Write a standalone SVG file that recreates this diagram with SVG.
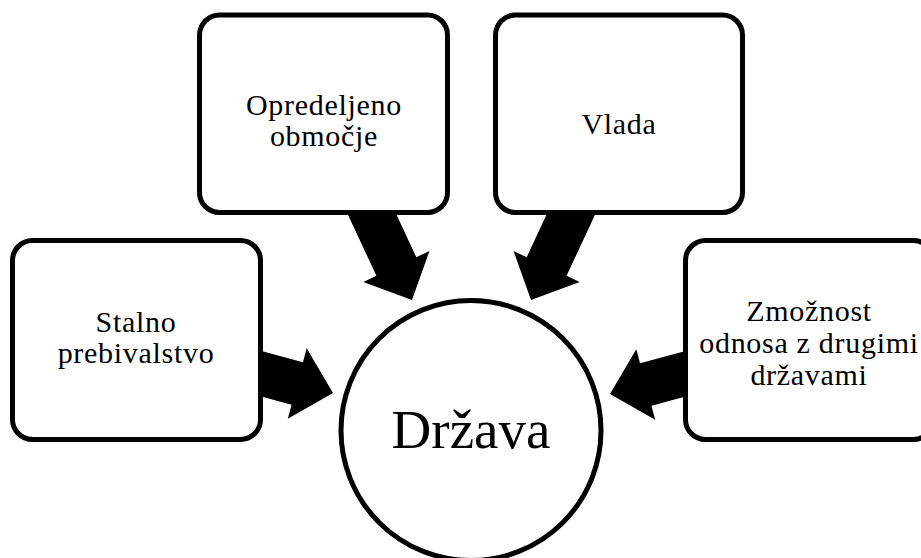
<svg xmlns="http://www.w3.org/2000/svg" width="921" height="558" viewBox="0 0 921 558">
<style>
.box{fill:#fff;stroke:#000;stroke-width:5}
text{font-family:'Liberation Serif','DejaVu Serif',serif;font-size:30px;letter-spacing:0.7px;fill:#000;text-anchor:middle}
.big{font-size:55px;letter-spacing:0}
.arr{fill:#000}
</style>
<defs>
<polygon id="ah" points="0,0 -37,-36.5 -37,-22 -135,-22 -135,22 -37,22 -37,36.5"/>
</defs>
<rect width="921" height="558" fill="#fff"/>
<g id="connectors">
<use href="#ah" class="arr" transform="translate(333,393) rotate(15)"/>
<use href="#ah" class="arr" transform="translate(610,394) rotate(165)"/>
<use href="#ah" class="arr" transform="translate(412,300) rotate(65)"/>
<use href="#ah" class="arr" transform="translate(531,300) rotate(115)"/>
</g>
<g id="n-center">
<circle class="box" cx="471" cy="430.5" r="130"/>
<text class="big" x="471" y="448">Država</text>
</g>
<g id="n-obmocje">
<rect class="box" x="199.5" y="15" width="248" height="197.5" rx="20"/>
<text x="324" y="115">Opredeljeno</text>
<text x="324" y="146">območje</text>
</g>
<g id="n-vlada">
<rect class="box" x="495.5" y="15" width="247" height="197.5" rx="20"/>
<text x="619" y="134">Vlada</text>
</g>
<g id="n-prebivalstvo">
<rect class="box" x="12.5" y="240.5" width="248" height="199" rx="20"/>
<text x="136" y="332">Stalno</text>
<text x="136" y="363">prebivalstvo</text>
</g>
<g id="n-zmoznost">
<rect class="box" x="685.5" y="240.5" width="248" height="199" rx="20"/>
<text x="809" y="321">Zmožnost</text>
<text x="809" y="353">odnosa z drugimi</text>
<text x="809" y="385">državami</text>
</g>
</svg>
